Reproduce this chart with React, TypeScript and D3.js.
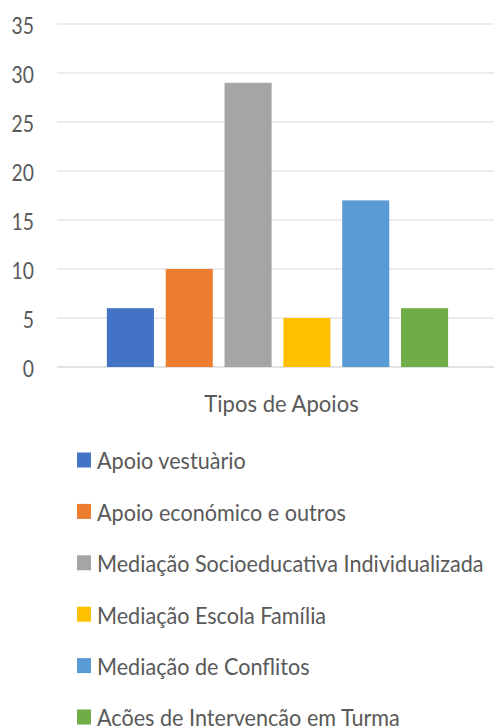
import React, { useEffect, useRef } from "react";
import * as d3 from "d3";

// values
const categories = [
  "Apoio vestuàrio",
  "Apoio económico e outros",
  "Mediação Socioeducativa Individualizada",
  "Mediação Escola Família",
  "Mediação de Conflitos",
  "Ações de Intervenção em Turma",
];
const values = [6, 10, 29, 5, 17, 6];
const colors = ["#4472C4", "#ED7D31", "#A5A5A5", "#FFC000", "#5B9BD5", "#70AD47"];
const yTicks = [0, 5, 10, 15, 20, 25, 30, 35];
const axisTitle = "Tipos de Apoios";

const width = 494;
const height = 726;
const font = "Lato, 'Open Sans', sans-serif";
const textColor = "#595959";

export default function App() {
  const ref = useRef<SVGSVGElement>(null);

  useEffect(() => {
    const svg = d3.select(ref.current);
    svg.selectAll("*").remove();

    const plotLeft = 57;
    const plotRight = 494;

    const y = d3.scaleLinear().domain([0, 35]).range([367, 24]);
    const x = d3
      .scaleBand<string>()
      .domain(categories)
      .range([101, 454])
      .paddingInner(0.2)
      .paddingOuter(0.1);

    // gridlines
    svg
      .append("g")
      .selectAll("line")
      .data(yTicks)
      .join("line")
      .attr("x1", plotLeft)
      .attr("x2", plotRight)
      .attr("y1", (d) => y(d))
      .attr("y2", (d) => y(d))
      .attr("stroke", "#d9d9d9")
      .attr("stroke-width", (d) => (d === 0 ? 1.5 : 1));

    // y tick labels (the picture's font is a little taller and narrower than Lato)
    svg
      .append("g")
      .selectAll("text")
      .data(yTicks)
      .join("text")
      .attr("transform", (d) => `translate(34, ${y(d) + 1.5}) scale(0.84,1)`)
      .attr("text-anchor", "end")
      .attr("dominant-baseline", "central")
      .attr("font-family", font)
      .attr("font-size", 23)
      .attr("fill", textColor)
      .text((d) => d);

    // bars
    svg
      .append("g")
      .selectAll("rect")
      .data(values)
      .join("rect")
      .attr("x", (d, i) => x(categories[i])!)
      .attr("width", x.bandwidth())
      .attr("y", (d) => y(d))
      .attr("height", (d) => y(0) - y(d))
      .attr("fill", (d, i) => colors[i]);

    // axis title
    svg
      .append("text")
      .attr("transform", `translate(${(202 + 361) / 2}, 412) scale(0.92,1)`)
      .attr("text-anchor", "middle")
      .attr("font-family", font)
      .attr("font-size", 24)
      .attr("fill", textColor)
      .text(axisTitle);

    // legend
    const legendY = d3.scaleLinear().domain([0, 5]).range([460, 717]);
    const items = svg
      .append("g")
      .selectAll("g")
      .data(categories)
      .join("g")
      .attr("transform", (d, i) => `translate(77, ${legendY(i)})`);

    items
      .append("rect")
      .attr("x", 0)
      .attr("y", -7.5)
      .attr("width", 14)
      .attr("height", 15)
      .attr("fill", (d, i) => colors[i]);

    items
      .append("text")
      .attr("transform", "translate(20, 0) scale(0.9,1)")
      .attr("dominant-baseline", "central")
      .attr("font-family", font)
      .attr("font-size", 24)
      .attr("fill", textColor)
      .text((d) => d);
  }, []);

  return (
    <svg
      ref={ref}
      width={width}
      height={height}
      style={{ position: "absolute", left: 0, top: 0, background: "#fff" }}
    />
  );
}
